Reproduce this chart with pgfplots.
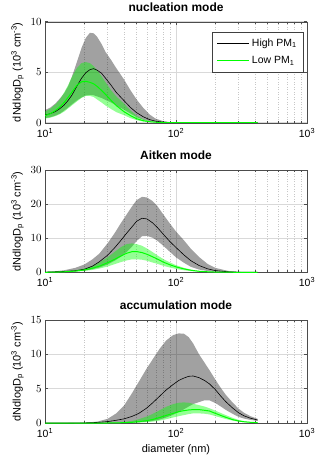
\documentclass[border=0pt]{standalone}
\usepackage{fontspec}
\setmainfont{Liberation Sans}
\usepackage{pgfplots}
\pgfplotsset{compat=1.18}
\usepgfplotslibrary{fillbetween}
\usepackage{pgfplotstable}

\definecolor{lgreen}{rgb}{0,1,0}

% d = diameter (nm); hiU/hi/hiL = High PM1 upper/median/lower; loU/lo/loL = Low PM1
\pgfplotstableread{
d    hiU   hi    hiL   loU   lo    loL
10   1.25  0.75  0.45  1.10  0.70  0.40
11   1.50  0.90  0.55  1.40  0.90  0.50
12   1.90  1.10  0.70  1.80  1.20  0.65
13   2.40  1.40  0.90  2.30  1.55  0.85
14   2.90  1.75  1.20  3.00  2.00  1.10
15   3.60  2.20  1.50  3.70  2.50  1.40
16   4.50  2.70  1.80  4.50  3.00  1.70
17.5 6.00  3.60  2.20  5.40  3.70  2.10
19   7.40  4.40  2.50  5.90  4.05  2.45
20.5 8.40  4.95  2.70  6.00  4.10  2.65
22   8.90  5.25  2.75  5.90  4.00  2.65
23.5 8.85  5.35  2.72  5.60  3.85  2.55
25   8.50  5.20  2.60  5.20  3.60  2.30
27   7.80  4.90  2.45  4.60  3.20  2.00
29   7.00  4.40  2.25  4.00  2.80  1.70
32   6.20  3.70  2.00  3.20  2.20  1.35
35   5.40  3.00  1.70  2.60  1.70  1.05
40   4.30  2.20  1.30  1.90  1.10  0.75
45   3.20  1.50  0.90  1.20  0.70  0.45
50   2.30  1.00  0.55  0.70  0.40  0.25
56   1.50  0.60  0.30  0.35  0.20  0.12
63   0.80  0.30  0.15  0.15  0.10  0.05
70   0.40  0.15  0.07  0.07  0.05  0.02
80   0.15  0.06  0.02  0.03  0.02  0.00
90   0.05  0.02  0.00  0.00  0.00  0.00
100  0.00  0.00  0.00  0.00  0.00  0.00
200  0.00  0.00  0.00  0.00  0.00  0.00
420  0.00  0.00  0.00  0.00  0.00  0.00
}\nuc

\pgfplotstableread{
d    hiU   hi    hiL   loU   lo    loL
10   0.10  0.05  0.00  0.00  0.00  0.00
12   0.30  0.15  0.05  0.10  0.05  0.03
14   0.60  0.25  0.10  0.25  0.15  0.08
17   1.30  0.45  0.25  0.60  0.35  0.20
20   2.30  0.90  0.50  1.10  0.70  0.40
23   3.80  1.80  0.90  1.90  1.20  0.70
26   5.50  3.10  1.40  2.90  1.80  1.10
30   8.50  5.00  2.30  4.40  2.80  1.70
34   11.5  7.20  3.40  6.00  3.80  2.40
38   14.5  9.40  4.60  7.40  4.80  3.00
42   17.0  11.5  6.00  8.30  5.60  3.50
46   19.3  13.3  7.50  8.50  6.05  3.80
50   21.2  15.0  9.20  8.30  6.10  3.85
55   22.2  15.9  10.6  7.80  5.80  3.70
60   22.0  15.7  10.7  7.00  5.30  3.40
66   21.0  14.6  10.2  6.00  4.60  2.90
72   19.5  13.2  9.30  5.00  3.90  2.50
80   17.0  11.2  7.80  3.90  3.00  1.90
90   14.3  9.00  6.00  2.90  2.20  1.40
100  12.0  7.30  4.40  2.10  1.60  1.00
115  9.40  5.10  2.80  1.30  1.00  0.60
130  6.90  3.40  1.60  0.80  0.60  0.35
150  4.50  2.00  0.80  0.40  0.30  0.18
175  2.40  1.00  0.35  0.20  0.15  0.09
200  1.30  0.50  0.15  0.10  0.07  0.04
250  0.40  0.15  0.03  0.03  0.02  0.01
300  0.10  0.05  0.00  0.01  0.01  0.00
420  0.00  0.00  0.00  0.00  0.00  0.00
}\ait

\pgfplotstableread{
d    hiU   hi    hiL   loU   lo    loL
10   0.00  0.00  0.00  0.00  0.00  0.00
15   0.00  0.00  0.00  0.00  0.00  0.00
20   0.05  0.02  0.00  0.00  0.00  0.00
25   0.20  0.08  0.00  0.00  0.00  0.00
30   0.60  0.20  0.00  0.02  0.00  0.00
35   1.40  0.40  0.01  0.06  0.02  0.00
40   2.50  0.60  0.02  0.15  0.05  0.01
46   4.30  0.95  0.05  0.30  0.10  0.03
52   6.00  1.40  0.10  0.55  0.20  0.06
60   8.00  2.20  0.20  0.95  0.35  0.12
66   9.20  2.90  0.30  1.30  0.50  0.20
75   10.8  3.90  0.50  1.85  0.80  0.35
84   12.0  4.80  0.80  2.35  1.10  0.55
95   12.8  5.60  1.20  2.75  1.40  0.80
105  13.05 6.20  1.60  2.95  1.65  1.00
115  13.0  6.55  2.00  3.00  1.80  1.15
125  12.5  6.80  2.40  2.95  1.90  1.30
135  11.6  6.85  2.75  2.80  1.95  1.40
150  10.0  6.60  3.05  2.60  1.95  1.40
165  8.80  6.20  3.30  2.40  1.85  1.35
180  7.70  5.70  3.30  2.15  1.75  1.25
200  6.30  4.85  2.90  1.80  1.40  1.00
220  5.10  3.90  2.40  1.45  1.10  0.78
240  4.10  3.10  1.90  1.15  0.83  0.58
270  3.00  2.20  1.35  0.75  0.50  0.35
300  2.10  1.50  0.90  0.45  0.30  0.20
330  1.50  1.05  0.65  0.28  0.18  0.12
370  1.00  0.70  0.45  0.15  0.10  0.06
420  0.60  0.44  0.30  0.08  0.05  0.03
}\acc

\pgfplotsset{
  every axis/.append style={
    scale only axis, width=262bp,
    xmin=10, xmax=1000,
    xtick={10,100,1000},
    xticklabels={10\textsuperscript{1},10\textsuperscript{2},10\textsuperscript{3}},
    ymin=0,
    tick align=inside,
    major tick length=3bp, minor tick length=2bp,
    axis line style={black!70},
    tick style={black!70, line width=0.4bp},
    xmajorgrids, ymajorgrids, xminorgrids,
    major grid style={black!15, line width=0.5bp},
    minor grid style={black!22, dash pattern=on 1bp off 1.5bp, line width=0.35bp},
    tick label style={font=\fontsize{10.5}{12}\selectfont},
    xticklabel style={yshift=-2bp},
    title style={font=\bfseries\fontsize{12}{14}\selectfont,
      at={(axis description cs:0.5,1)}, anchor=base, yshift=4.5bp},
    ylabel={dNdlogD\textsubscript{p} (10\textsuperscript{3} cm\textsuperscript{-3})},
    ylabel style={font=\fontsize{11}{13}\selectfont,
      at={(axis description cs:-0.105,0.5)}, anchor=center},
    xlabel style={font=\fontsize{11}{13}\selectfont,
      at={(axis description cs:0.5,-0.26)}, anchor=center},
  },
  hiband/.style={fill=black, fill opacity=0.37, draw=none, forget plot},
  loband/.style={fill=lgreen, fill opacity=0.42, draw=none, forget plot},
}

\begin{document}
\begin{tikzpicture}

% nucleation mode
\begin{semilogxaxis}[at={(0,0)}, height=101bp, ymax=10, ytick={0,5,10},
  title={nucleation mode},
  legend style={at={(0.988,0.9)}, anchor=north east, draw=black!75,
    font=\fontsize{10.5}{12}\selectfont, row sep=5bp,
    inner xsep=5bp, inner ysep=4.5bp},
  legend cell align=left,
  legend image code/.code={\draw[#1] (0bp,0bp) -- (32bp,0bp);}]
\addplot[name path=hu, draw=none, forget plot] table[x=d,y=hiU]{\nuc};
\addplot[name path=hl, draw=none, forget plot] table[x=d,y=hiL]{\nuc};
\addplot[hiband] fill between[of=hu and hl];
\addplot[name path=gu, draw=none, forget plot] table[x=d,y=loU]{\nuc};
\addplot[name path=gl, draw=none, forget plot] table[x=d,y=loL]{\nuc};
\addplot[loband] fill between[of=gu and gl];
\addplot[black, line width=0.6bp] table[x=d,y=hi]{\nuc};
\addlegendentry{High PM\textsubscript{1}}
\addplot[lgreen, line width=1bp] table[x=d,y=lo]{\nuc};
\addlegendentry{Low PM\textsubscript{1}}
\end{semilogxaxis}

% Aitken mode
\begin{semilogxaxis}[at={(0,-149.6bp)}, height=102bp, ymax=30, ytick={0,10,20,30},
  title={Aitken mode}]
\addplot[name path=hu, draw=none, forget plot] table[x=d,y=hiU]{\ait};
\addplot[name path=hl, draw=none, forget plot] table[x=d,y=hiL]{\ait};
\addplot[hiband] fill between[of=hu and hl];
\addplot[name path=gu, draw=none, forget plot] table[x=d,y=loU]{\ait};
\addplot[name path=gl, draw=none, forget plot] table[x=d,y=loL]{\ait};
\addplot[loband] fill between[of=gu and gl];
\addplot[black, line width=0.6bp] table[x=d,y=hi]{\ait};
\addplot[lgreen, line width=1bp] table[x=d,y=lo]{\ait};
\end{semilogxaxis}

% accumulation mode
\begin{semilogxaxis}[at={(0,-300.3bp)}, height=103bp, ymax=15, ytick={0,5,10,15},
  title={accumulation mode}, xlabel={diameter (nm)}]
\addplot[name path=hu, draw=none, forget plot] table[x=d,y=hiU]{\acc};
\addplot[name path=hl, draw=none, forget plot] table[x=d,y=hiL]{\acc};
\addplot[hiband] fill between[of=hu and hl];
\addplot[name path=gu, draw=none, forget plot] table[x=d,y=loU]{\acc};
\addplot[name path=gl, draw=none, forget plot] table[x=d,y=loL]{\acc};
\addplot[loband] fill between[of=gu and gl];
\addplot[black, line width=0.6bp] table[x=d,y=hi]{\acc};
\addplot[lgreen, line width=1bp] table[x=d,y=lo]{\acc};
\end{semilogxaxis}

\pgfresetboundingbox
\path[use as bounding box] (-45bp,-345.3bp) rectangle (275bp,122.7bp);
\end{tikzpicture}
\end{document}
